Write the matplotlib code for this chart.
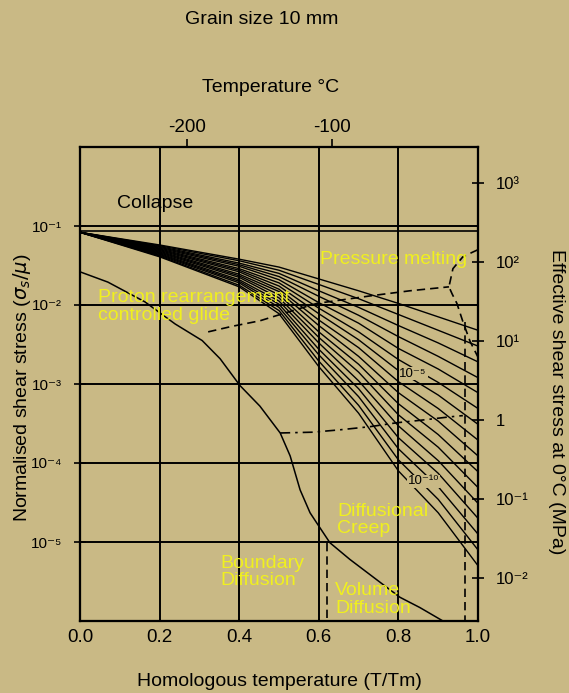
import matplotlib.pyplot as plt
import numpy as np

plt.rcParams['font.family'] = ['Liberation Sans', 'DejaVu Sans']

BG = '#c9b985'
YEL = '#f0f01e'

# strain-rate contours: homologous temperature columns and log10(stress/mu) per contour (top = fastest)
cx = [0.0, 0.2, 0.4, 0.5, 0.6, 0.7, 0.8, 0.9, 1.0]
contours = [
    [-1.08, -1.24, -1.42, -1.52, -1.67, -1.82, -1.98, -2.15, -2.32],
    [-1.08, -1.25, -1.44, -1.56, -1.74, -1.92, -2.12, -2.32, -2.52],
    [-1.08, -1.26, -1.47, -1.60, -1.82, -2.03, -2.26, -2.48, -2.72],
    [-1.08, -1.27, -1.49, -1.64, -1.89, -2.13, -2.40, -2.65, -2.92],
    [-1.08, -1.28, -1.51, -1.68, -1.97, -2.23, -2.55, -2.81, -3.11],
    [-1.08, -1.29, -1.54, -1.72, -2.04, -2.34, -2.69, -2.98, -3.31],
    [-1.08, -1.30, -1.56, -1.76, -2.11, -2.44, -2.83, -3.14, -3.51],
    [-1.08, -1.31, -1.58, -1.80, -2.19, -2.54, -2.97, -3.31, -3.71],
    [-1.08, -1.32, -1.61, -1.83, -2.26, -2.65, -3.11, -3.47, -3.91],
    [-1.08, -1.33, -1.63, -1.87, -2.34, -2.75, -3.25, -3.64, -4.11],
    [-1.08, -1.34, -1.65, -1.91, -2.41, -2.85, -3.39, -3.80, -4.31],
    [-1.08, -1.35, -1.68, -1.95, -2.48, -2.96, -3.53, -3.97, -4.51],
    [-1.08, -1.36, -1.70, -1.99, -2.56, -3.06, -3.68, -4.13, -4.70],
    [-1.08, -1.37, -1.72, -2.03, -2.63, -3.16, -3.82, -4.30, -4.90],
    [-1.08, -1.38, -1.75, -2.07, -2.71, -3.27, -3.96, -4.46, -5.10],
    [-1.08, -1.39, -1.77, -2.11, -2.78, -3.37, -4.10, -4.63, -5.30],
]

# field boundaries (x = T/Tm, y = log10 stress/mu)
glide_x = [0.0, 0.07, 0.163, 0.239, 0.307, 0.352, 0.402, 0.452, 0.503, 0.528, 0.553,
           0.578, 0.595, 0.628, 0.678, 0.754, 0.804, 0.854, 0.912]
glide_y = [-1.58, -1.71, -1.96, -2.24, -2.45, -2.68, -3.02, -3.28, -3.62, -3.91, -4.34,
           -4.63, -4.76, -5.01, -5.22, -5.51, -5.70, -5.83, -6.0]
proton_x = [0.322, 0.382, 0.452, 0.535, 0.595, 0.736, 0.829, 0.927]
proton_y = [-2.34, -2.27, -2.20, -2.07, -1.98, -1.88, -1.82, -1.77]
melt_x = [1.0, 0.987, 0.962, 0.937, 0.927, 0.935, 0.947, 0.962, 0.980, 1.0]
melt_y = [-1.30, -1.33, -1.39, -1.54, -1.77, -1.86, -1.98, -2.21, -2.46, -2.66]
creep_x = [0.503, 0.585, 0.653, 0.729, 0.797, 0.854, 0.922, 0.962]
creep_y = [-3.62, -3.61, -3.58, -3.54, -3.49, -3.46, -3.42, -3.40]
vert1_x = [0.967, 0.967]
vert1_y = [-2.21, -6.0]
vert2_x = [0.62, 0.62]
vert2_y = [-5.01, -6.0]
collapse_y = -1.06

xticks = [0.0, 0.2, 0.4, 0.6, 0.8, 1.0]
xticklabels = ['0.0', '0.2', '0.4', '0.6', '0.8', '1.0']
yticks = [1e-1, 1e-2, 1e-3, 1e-4, 1e-5]
yticklabels = ['10⁻¹', '10⁻²', '10⁻³', '10⁻⁴', '10⁻⁵']
rticks = [1e3, 1e2, 1e1, 1, 1e-1, 1e-2]
rticklabels = ['10³', '10²', '10¹', '1', '10⁻¹', '10⁻²']
mpa_offset = 3.45  # log10 MPa - log10(stress/mu)
temp_ticks = [-200, -100]

FS = 14      # titles, axis labels, field labels
FS_T = 13.5  # x tick labels
FS_Y = 11    # power-of-ten tick labels

fig = plt.figure(figsize=(5.69, 6.93), dpi=100, facecolor=BG)
ax = fig.add_axes([80 / 569, 72 / 693, 398 / 569, 474 / 693])
ax.set_facecolor(BG)
ax.set_yscale('log')
ax.set_xlim(0, 1)
ax.set_ylim(1e-6, 1)

# grid
for x in xticks[1:-1]:
    ax.axvline(x, color='black', lw=1.4, zorder=1)
for y in yticks:
    ax.axhline(y, color='black', lw=1.4, zorder=1)
ax.axhline(10 ** collapse_y, color='black', lw=1.2, zorder=1)

p = lambda v: 10 ** np.array(v)

for c in contours:
    ax.plot(cx, p(c), color='black', lw=1.0, zorder=2)

ax.plot(glide_x, p(glide_y), color='black', lw=1.1, zorder=3)
ax.plot(proton_x, p(proton_y), color='black', lw=1.2, dashes=(5, 3), zorder=3)
ax.plot(melt_x, p(melt_y), color='black', lw=1.2, dashes=(5, 3), zorder=3)
ax.plot(creep_x, p(creep_y), color='black', lw=1.2, dashes=(6, 3, 1.5, 3), zorder=3)
ax.plot(vert1_x, p(vert1_y), color='black', lw=1.2, dashes=(5, 3), zorder=3)
ax.plot(vert2_x, p(vert2_y), color='black', lw=1.2, dashes=(5, 3), zorder=3)

# field labels
ax.text(0.093, 10 ** -0.72, 'Collapse', fontsize=FS, va='center', ha='left')
ax.text(0.603, 10 ** -1.42, 'Pressure melting', fontsize=FS, color=YEL, va='center', zorder=5)
ax.text(0.045, 10 ** -2.02, 'Proton rearrangement\ncontrolled glide', fontsize=FS,
        color=YEL, va='center', linespacing=1.05, zorder=5)
ax.text(0.646, 10 ** -4.72, 'Diffusional\nCreep', fontsize=FS, color=YEL, va='center',
        linespacing=1.05, zorder=5)
ax.text(0.352, 10 ** -5.38, 'Boundary\nDiffusion', fontsize=FS, color=YEL, va='center',
        linespacing=1.05, zorder=5)
ax.text(0.641, 10 ** -5.73, 'Volume\nDiffusion', fontsize=FS, color=YEL, va='center',
        linespacing=1.05, zorder=5)
box = dict(facecolor=BG, edgecolor='none', pad=0.5)
ax.text(0.837, 10 ** -2.87, '10⁻⁵', fontsize=9.5, ha='center', va='center', bbox=box, zorder=4)
ax.text(0.864, 10 ** -4.23, '10⁻¹⁰', fontsize=9.5, ha='center', va='center', bbox=box, zorder=4)

# axes
ax.set_xticks(xticks)
ax.set_xticklabels(xticklabels, fontsize=FS_T)
ax.tick_params(axis='x', length=0, pad=6)
ax.set_yticks(yticks)
ax.set_yticklabels(yticklabels, fontsize=FS_Y)
ax.yaxis.set_minor_locator(plt.NullLocator())
ax.tick_params(axis='y', direction='inout', length=8, width=1.2, pad=9)
for s in ax.spines.values():
    s.set_linewidth(1.5)

rax = ax.twinx()
rax.set_yscale('log')
rax.set_ylim(10 ** (-6 + mpa_offset), 10 ** mpa_offset)
rax.set_yticks(rticks)
rax.set_yticklabels(rticklabels, fontsize=FS_Y + 1)
rax.yaxis.set_minor_locator(plt.NullLocator())
rax.tick_params(axis='y', direction='inout', length=8, width=1.2, pad=9)

tax = ax.twiny()
tax.set_xlim(-273.15, 0)
tax.set_xticks(temp_ticks)
tax.set_xticklabels(['-200', '-100'], fontsize=FS_T)
tax.tick_params(axis='x', direction='out', length=6, width=1.2, pad=2)
for s in list(rax.spines.values()) + list(tax.spines.values()):
    s.set_linewidth(1.5)

fig.text(262 / 569, 1 - 19 / 693, 'Grain size 10 mm', fontsize=FS, ha='center', va='center')
fig.text(271 / 569, 1 - 88 / 693, 'Temperature °C', fontsize=FS, ha='center', va='center')
fig.text(279 / 569, 1 - 681 / 693, 'Homologous temperature (T/Tm)', fontsize=FS,
         ha='center', va='center')
fig.text(22 / 569, 1 - 388 / 693, 'Normalised shear stress ($\\sigma_s/\\mu$)', fontsize=FS,
         ha='center', va='center', rotation=90)
fig.text(557 / 569, 1 - 402 / 693, 'Effective shear stress at 0°C (MPa)', fontsize=FS,
         ha='center', va='center', rotation=270)

fig.savefig('out.png', dpi=100, facecolor=BG)
